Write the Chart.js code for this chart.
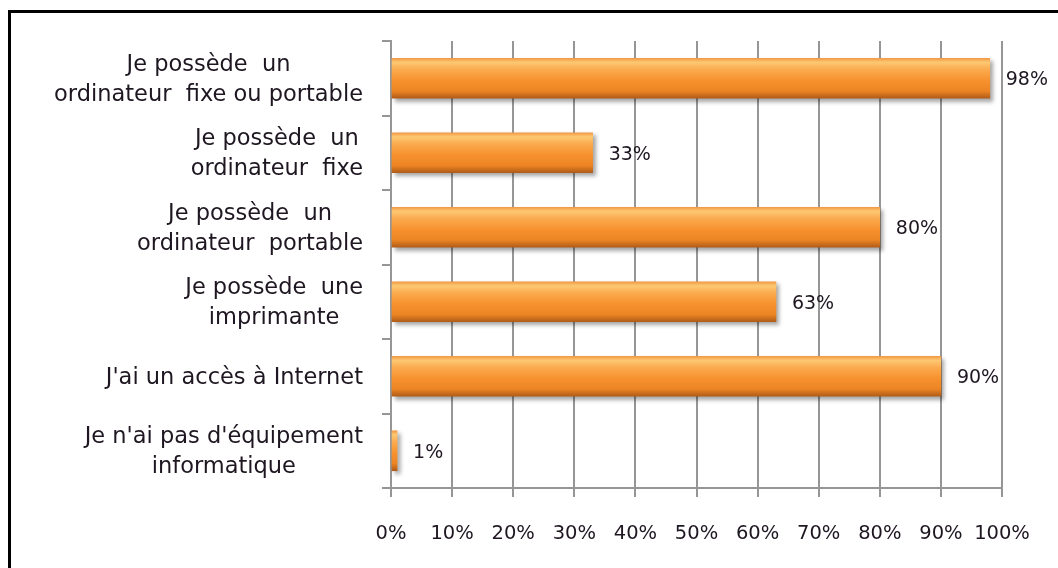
<!DOCTYPE html>
<html>
<head>
<meta charset="utf-8">
<script src="https://cdn.jsdelivr.net/npm/chart.js@4"></script>
<style>
  html, body { margin: 0; padding: 0; background: #fff; overflow: hidden; }
  #wrap { position: relative; width: 1058px; height: 568px; }
  #frame { position: absolute; left: 8px; top: 10px; width: 2000px; height: 2000px;
           border-left: 3px solid #000; border-top: 3px solid #000; pointer-events: none; }
</style>
</head>
<body>
<div id="wrap">
  <canvas id="chart" width="1058" height="568"></canvas>
  <div id="frame"></div>
</div>
<script>
// Equipment survey - horizontal bars
const categories = [
  ['Je possède  un', 'ordinateur  fixe ou portable'],
  ['Je possède  un', 'ordinateur  fixe'],
  ['Je possède  un', 'ordinateur  portable'],
  ['Je possède  une', 'imprimante'],
  ["J'ai un accès à Internet"],
  ["Je n'ai pas d'équipement", 'informatique']
];
const values = [98, 33, 80, 63, 90, 1];
const xTicks = [0, 10, 20, 30, 40, 50, 60, 70, 80, 90, 100];

const FONT = 'DejaVu Sans';
const TEXT = '#1e1620';
const GRID = '#969696';

// --- Bar fill: vertical gradient across each bar ---
function barFill(c) {
  const chart = c.chart;
  const y = chart.scales.y;
  if (!y || c.dataIndex === undefined) return '#f7922e';
  const yc = y.getPixelForValue(c.dataIndex);
  if (!Number.isFinite(yc)) return '#f7922e';
  const g = chart.ctx.createLinearGradient(0, yc - 20, 0, yc + 20);
  g.addColorStop(0, '#f29a44');
  g.addColorStop(0.1, '#fdc873');
  g.addColorStop(0.28, '#fbab4f');
  g.addColorStop(0.55, '#f7922f');
  g.addColorStop(0.82, '#ec8423');
  g.addColorStop(1, '#b05c19');
  return g;
}

// --- Plugins ---
const barShadow = {
  id: 'barShadow',
  beforeDatasetsDraw(chart) {
    const ctx = chart.ctx;
    ctx.save();
    ctx.shadowColor = 'rgba(0,0,0,0.35)';
    ctx.shadowOffsetX = 3;
    ctx.shadowOffsetY = 3;
    ctx.shadowBlur = 4;
  },
  afterDatasetsDraw(chart) {
    chart.ctx.restore();
    // value labels
    const ctx = chart.ctx;
    const meta = chart.getDatasetMeta(0);
    ctx.save();
    ctx.font = '19px "' + FONT + '"';
    ctx.fillStyle = TEXT;
    ctx.textAlign = 'left';
    ctx.textBaseline = 'middle';
    meta.data.forEach((el, i) => {
      ctx.fillText(values[i] + '%', el.x + 16, el.y + 2);
    });
    ctx.restore();
  }
};

// category labels: each block right-aligned, lines centred inside it
const catLabels = {
  id: 'catLabels',
  afterDraw(chart) {
    const ctx = chart.ctx;
    const y = chart.scales.y;
    const right = y.right - 9 - 19;
    const lh = 30;
    ctx.save();
    ctx.font = '22.5px "' + FONT + '"';
    ctx.fillStyle = TEXT;
    ctx.textAlign = 'center';
    ctx.textBaseline = 'middle';
    categories.forEach((lines, i) => {
      const w = Math.max(...lines.map(l => ctx.measureText(l).width));
      const cx = right - w / 2;
      const yc = y.getPixelForValue(i) + 1.5;
      const top = yc - (lines.length - 1) * lh / 2;
      lines.forEach((l, k) => ctx.fillText(l, cx, top + k * lh));
    });
    ctx.restore();
  }
};

new Chart(document.getElementById('chart'), {
  type: 'bar',
  data: {
    labels: categories,
    datasets: [{
      data: values,
      backgroundColor: barFill,
      borderWidth: 0,
      barThickness: 40
    }]
  },
  options: {
    indexAxis: 'y',
    responsive: false,
    animation: false,
    layout: { padding: { top: 41, right: 56, left: 0, bottom: 0 } },
    plugins: { legend: { display: false }, tooltip: { enabled: false } },
    scales: {
      x: {
        min: 0, max: 100,
        afterBuildTicks: (s) => { s.ticks = xTicks.map(v => ({ value: v })); },
        afterFit: (s) => { s.height = 80; },
        grid: { color: GRID, lineWidth: 2, tickLength: 9 },
        border: { color: GRID, width: 2 },
        ticks: {
          padding: 25,
          color: TEXT,
          maxRotation: 0,
          minRotation: 0,
          autoSkip: false,
          font: { family: FONT, size: 19.5 },
          callback: (v) => v + '%'
        }
      },
      y: {
        afterFit: (s) => { s.width = 391; },
        grid: { offset: true, drawOnChartArea: false, color: GRID, lineWidth: 2, tickLength: 9 },
        border: { color: GRID, width: 2 },
        ticks: { color: 'rgba(0,0,0,0)', font: { family: FONT, size: 18 } }
      }
    }
  },
  plugins: [barShadow, catLabels]
});
</script>
</body>
</html>
